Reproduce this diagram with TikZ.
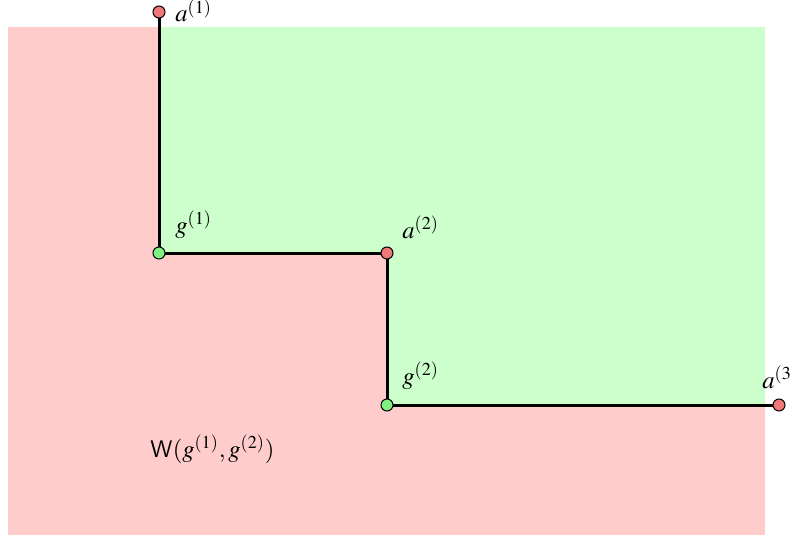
\documentclass[tikz,border=0pt]{standalone}
\usepackage{mathptmx}
\definecolor{pinkbg}{HTML}{FFCCCC}
\definecolor{greenbg}{HTML}{CCFFCC}
\definecolor{redpt}{HTML}{F07878}
\definecolor{greenpt}{HTML}{80F080}
\begin{document}
\begin{tikzpicture}[x=0.5pt,y=-0.5pt,
  path/.style={line width=1.5pt},
  redp/.style={circle,draw=black,line width=0.5pt,fill=redpt,inner sep=0pt,minimum size=6pt},
  greenp/.style={circle,draw=black,line width=0.5pt,fill=greenpt,inner sep=0pt,minimum size=6pt},
  lab/.style={anchor=base west,inner sep=0pt,font=\fontsize{12.3}{14}\selectfont}]
\useasboundingbox (0,0) rectangle (791,535);
\fill[pinkbg] (8,27) rectangle (765,535);
\fill[greenbg] (160,27) -- (765,27) -- (765,405) -- (387,405) -- (387,253) -- (160,253) -- cycle;
\coordinate (pa1) at (159,12);
\coordinate (pg1) at (159,253);
\coordinate (pa2) at (387,253);
\coordinate (pg2) at (387,405);
\coordinate (pa3) at (779,405);
\draw[path] (pa1) -- (pg1) -- (pa2) -- (pg2) -- (pa3);
\node[redp] (a1) at (pa1) {};
\node[greenp] (g1) at (pg1) {};
\node[redp] (a2) at (pa2) {};
\node[greenp] (g2) at (pg2) {};
\node[redp] (a3) at (pa3) {};
\node[lab] (la1) at (175,22) {$a^{(1)}$};
\node[lab] (lg1) at (175,233) {$g^{(1)}$};
\node[lab] (la2) at (402,238) {$a^{(2)}$};
\node[lab] (lg2) at (402,384) {$g^{(2)}$};
\node[lab] (la3) at (762,388) {$a^{(3)}$};
\node[lab] (lw) at (150,457) {$\mathsf{W}(g^{(1)},g^{(2)})$};
\end{tikzpicture}
\end{document}
